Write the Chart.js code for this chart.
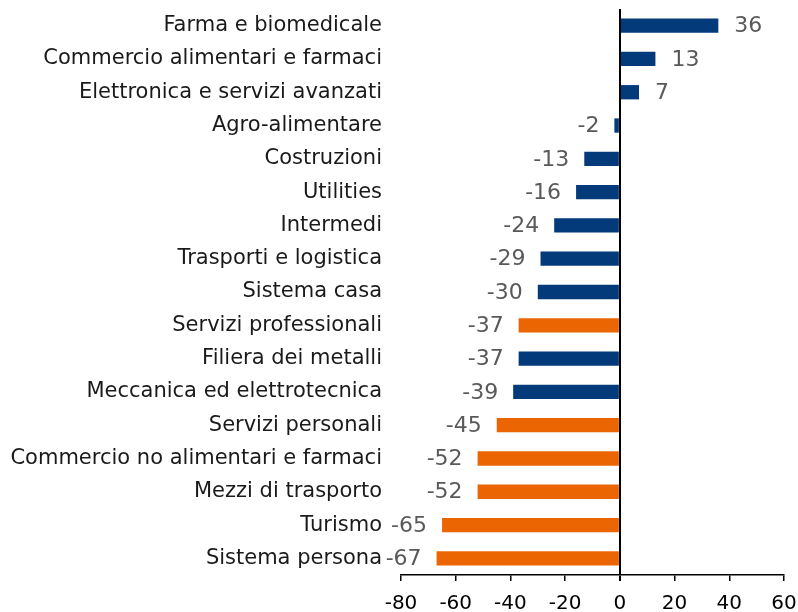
<!DOCTYPE html>
<html>
<head>
<meta charset="utf-8">
<script src="https://cdn.jsdelivr.net/npm/chart.js@4/dist/chart.umd.min.js"></script>
<style>
  html, body { margin: 0; padding: 0; background: #fff; }
  #wrap { width: 798px; height: 612px; }
</style>
</head>
<body>
<div id="wrap"><canvas id="barChart" width="798" height="612"></canvas></div>
<script>
const categories = [
    "Farma e biomedicale",
    "Commercio alimentari e farmaci",
    "Elettronica e servizi avanzati",
    "Agro-alimentare",
    "Costruzioni",
    "Utilities",
    "Intermedi",
    "Trasporti e logistica",
    "Sistema casa",
    "Servizi professionali",
    "Filiera dei metalli",
    "Meccanica ed elettrotecnica",
    "Servizi personali",
    "Commercio no alimentari e farmaci",
    "Mezzi di trasporto",
    "Turismo",
    "Sistema persona",
];
const values = [36, 13, 7, -2, -13, -16, -24, -29, -30, -37, -37, -39, -45, -52, -52, -65, -67];
// true = servizi (arancione), false = blu
const isOrange = [false, false, false, false, false, false, false, false, false, true, false, false, true, true, true, true, true];
const xTicks = [-80, -60, -40, -20, 0, 20, 40, 60];

const BLUE = "#023a7a";
const ORANGE = "#ec6503";
const FONT = "'DejaVu Sans', sans-serif";

// etichette dei valori alla fine di ogni barra
const valueLabels = {
    id: "valueLabels",
    afterDatasetsDraw(chart) {
        const ctx = chart.ctx;
        const meta = chart.getDatasetMeta(0);
        ctx.save();
        ctx.font = "22px " + FONT;
        ctx.fillStyle = "#595959";
        ctx.textBaseline = "middle";
        meta.data.forEach((bar, i) => {
            const v = values[i];
            if (v >= 0) {
                ctx.textAlign = "left";
                ctx.fillText(String(v), bar.x + 16, bar.y + 1);
            } else {
                ctx.textAlign = "right";
                ctx.fillText(String(v), bar.x - 15, bar.y + 1);
            }
        });
        ctx.restore();
    },
};

const ctx = document.getElementById("barChart").getContext("2d");
new Chart(ctx, {
    type: "bar",
    data: {
        labels: categories,
        datasets: [
            {
                data: values,
                backgroundColor: isOrange.map((o) => (o ? ORANGE : BLUE)),
                borderWidth: 0,
                barPercentage: 0.43,
                categoryPercentage: 1,
            },
        ],
    },
    plugins: [valueLabels],
    options: {
        indexAxis: "y",
        responsive: false,
        animation: false,
        layout: { padding: { top: 9, right: 14, left: 0, bottom: 0 } },
        plugins: {
            legend: { display: false },
            tooltip: { enabled: false },
        },
        scales: {
            x: {
                min: -80,
                max: 60,
                afterBuildTicks(axis) {
                    axis.ticks = xTicks.map((v) => ({ value: v }));
                },
                afterFit(axis) {
                    axis.height = 37;
                    axis.paddingLeft = 0;
                    axis.paddingRight = 0;
                },
                border: { display: true, color: "#000", width: 1.5 },
                grid: {
                    drawOnChartArea: true,
                    color: (c) => (c.tick && c.tick.value === 0 ? "#000" : "rgba(0,0,0,0)"),
                    lineWidth: (c) => (c.tick && c.tick.value === 0 ? 2 : 1.5),
                    tickColor: "#000",
                    tickLength: 6,
                },
                ticks: {
                    color: "#000",
                    font: { family: FONT, size: 20 },
                    padding: 11,
                    maxRotation: 0,
                },
            },
            y: {
                afterFit(axis) {
                    axis.width = 401;
                    axis.paddingTop = 0;
                    axis.paddingBottom = 0;
                },
                border: { display: false },
                grid: { display: false, drawTicks: false },
                ticks: {
                    color: "#1a1a1a",
                    font: { family: FONT, size: 21 },
                    padding: 19,
                    autoSkip: false,
                },
            },
        },
    },
});
</script>
</body>
</html>
